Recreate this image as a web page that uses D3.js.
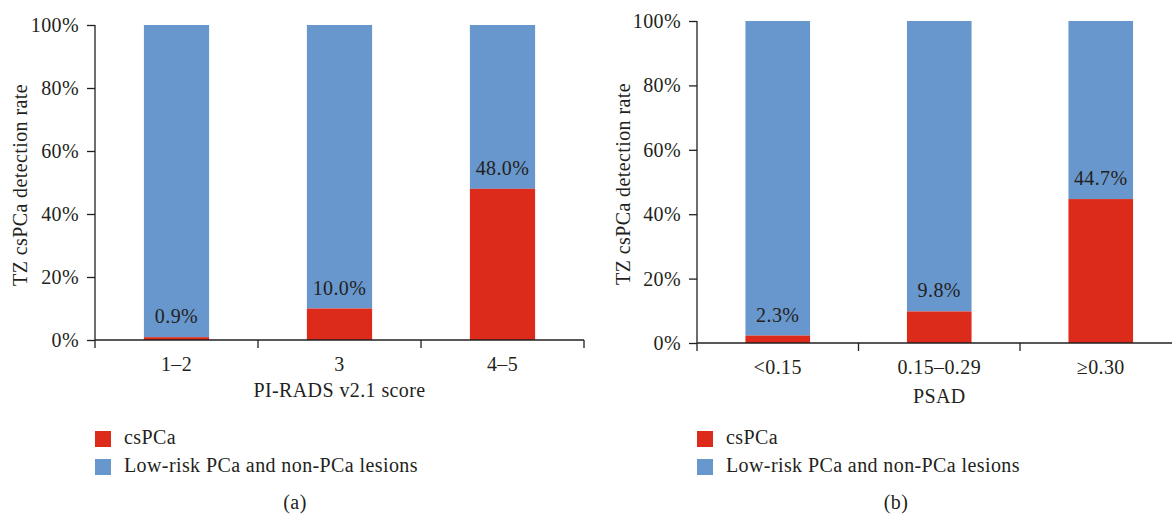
<!DOCTYPE html>
<html>
<head>
<meta charset="utf-8">
<script src="https://cdn.jsdelivr.net/npm/d3@7"></script>
<style>
  body { margin: 0; background: #fff; }
  text { font-family: "Liberation Serif", "DejaVu Serif", serif; fill: #231f20; letter-spacing: 0.4px; }
</style>
</head>
<body>
<script>
// data
var catsA = ["1\u20132", "3", "4\u20135"];
var csA = [0.9, 10.0, 48.0];
var restA = [99.1, 90.0, 52.0];

var catsB = ["<0.15", "0.15\u20130.29", "\u22650.30"];
var csB = [2.3, 9.8, 44.7];
var restB = [97.7, 90.2, 55.3];

var yTicks = [0, 20, 40, 60, 80, 100];
var seriesNames = ["csPCa", "Low-risk PCa and non-PCa lesions"];
var colors = ["#dc2b1b", "#6897cd"];

var svgWidth = 1172, svgHeight = 515;
var fs = "20px";

var svg = d3.select("body").append("svg")
  .attr("width", svgWidth)
  .attr("height", svgHeight);

function drawPanel(p) {
  var g = svg.append("g").attr("transform", `translate(${p.left}, ${p.top})`);
  var w = p.bandW * p.cats.length;
  var h = p.height;

  var x = d3.scaleBand().domain(p.cats).range([0, w]).padding(0);
  var y = d3.scaleLinear().domain([0, 100]).range([h, 0]);
  var bw = x.bandwidth() * 0.4;

  var rows = p.cats.map((c, i) => ({cat: c, cs: p.cs[i], rest: p.rest[i]}));

  // blue (rest) on top of red
  g.selectAll(".rest").data(rows).enter().append("rect")
    .attr("x", d => x(d.cat) + (x.bandwidth() - bw) / 2)
    .attr("width", bw)
    .attr("y", d => y(d.cs + d.rest))
    .attr("height", d => y(d.cs) - y(d.cs + d.rest))
    .attr("fill", colors[1]);

  g.selectAll(".cs").data(rows).enter().append("rect")
    .attr("x", d => x(d.cat) + (x.bandwidth() - bw) / 2)
    .attr("width", bw)
    .attr("y", d => y(d.cs))
    .attr("height", d => y(0) - y(d.cs))
    .attr("fill", colors[0]);

  g.selectAll(".val").data(rows).enter().append("text")
    .attr("x", d => x(d.cat) + x.bandwidth() / 2)
    .attr("y", d => y(d.cs) - 14)
    .attr("text-anchor", "middle")
    .style("font-size", fs)
    .text(d => d.cs.toFixed(1) + "%");

  // y axis
  var yAxis = g.append("g")
    .call(d3.axisLeft(y).tickValues(yTicks).tickSize(8).tickPadding(8)
      .tickFormat(d => d + "%"));
  yAxis.select(".domain").remove();
  yAxis.selectAll("line").attr("stroke", "#231f20").attr("stroke-width", 1.3);
  yAxis.selectAll("text").style("font-size", fs).style("font-family", "Liberation Serif")
    .style("letter-spacing", "0.4px");
  g.append("line").attr("x1", 0).attr("x2", 0).attr("y1", y(100)).attr("y2", h + 8)
    .attr("stroke", "#231f20").attr("stroke-width", 1.3);

  // x axis
  g.append("line").attr("x1", 0).attr("x2", w).attr("y1", h).attr("y2", h)
    .attr("stroke", "#231f20").attr("stroke-width", 1.3);
  var bounds = p.cats.map(c => x(c)).slice(1).concat(p.endTick ? [w] : []);
  g.selectAll(".xt").data(bounds).enter().append("line")
    .attr("x1", d => d).attr("x2", d => d).attr("y1", h).attr("y2", h + 8)
    .attr("stroke", "#231f20").attr("stroke-width", 1.3);
  g.selectAll(".xl").data(p.cats).enter().append("text")
    .attr("x", d => x(d) + x.bandwidth() / 2)
    .attr("y", h + 31)
    .attr("text-anchor", "middle")
    .style("font-size", fs)
    .text(d => d);

  g.append("text")
    .attr("x", w / 2).attr("y", h + p.titleDy)
    .attr("text-anchor", "middle")
    .style("font-size", fs)
    .text(p.xTitle);

  g.append("text")
    .attr("transform", `translate(${p.yLabelX - p.left}, ${p.yLabelY - p.top}) rotate(-90)`)
    .attr("text-anchor", "middle")
    .style("font-size", fs)
    .text("TZ csPCa detection rate");

  // legend
  var lg = svg.append("g").attr("transform", `translate(${p.left}, 431)`);
  seriesNames.forEach(function(s, i) {
    lg.append("rect").attr("x", 0).attr("y", i * 28).attr("width", 16).attr("height", 16)
      .attr("fill", colors[i]);
    lg.append("text").attr("x", 29).attr("y", i * 28 + 13)
      .style("font-size", fs).text(s);
  });

  svg.append("text")
    .attr("x", p.capX).attr("y", 509)
    .attr("text-anchor", "middle")
    .style("font-size", fs)
    .text(p.caption);
}

drawPanel({left: 95, top: 25, height: 315, bandW: 163, cats: catsA, cs: csA, rest: restA,
  xTitle: "PI-RADS v2.1 score", titleDy: 57, yLabelX: 27, yLabelY: 185,
  endTick: true, caption: "(a)", capX: 295});
drawPanel({left: 697, top: 21, height: 322, bandW: 161.5, cats: catsB, cs: csB, rest: restB,
  xTitle: "PSAD", titleDy: 60, yLabelX: 630, yLabelY: 184,
  endTick: false, caption: "(b)", capX: 896});
</script>
</body>
</html>
